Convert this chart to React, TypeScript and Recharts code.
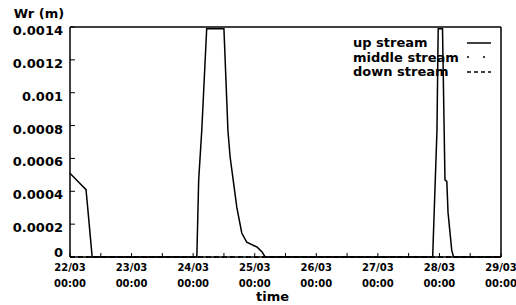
import { LineChart, Line, XAxis, YAxis, Legend } from 'recharts';

// days since 22/03 00:00
const upStreamTime = [0, 0.13, 0.26, 0.29, 0.36, 2.06, 2.09, 2.14, 2.22, 2.5, 2.565, 2.6, 2.65, 2.71, 2.79, 2.87, 3.04, 3.12, 3.17, 5.89, 5.96, 5.98, 6.05, 6.09, 6.12, 6.14, 6.2, 6.23, 7];
const upStreamWr = [0.00051, 0.00046, 0.00041, 0.00029, 0, 0, 0.00047, 0.00077, 0.00139, 0.00139, 0.00077, 0.00061, 0.00047, 0.0003, 0.000146, 0.00009, 0.00006, 0.00003, 0, 0, 0.00077, 0.00139, 0.00139, 0.00047, 0.00046, 0.00027, 0.00004, 0, 0];
const middleStreamTime = [0, 7];
const middleStreamWr = [0, 0];
const downStreamTime = [0, 7];
const downStreamWr = [0, 0];

const dayLabels = ['22/03', '23/03', '24/03', '25/03', '26/03', '27/03', '28/03', '29/03'];
const xTicks = [0, 0.5, 1, 1.5, 2, 2.5, 3, 3.5, 4, 4.5, 5, 5.5, 6, 6.5, 7];
const yTicks = [0, 0.0002, 0.0004, 0.0006, 0.0008, 0.001, 0.0012, 0.0014];

const seriesNames = ['up stream', 'middle stream', 'down stream'];
const dashes = [undefined, '2 14', '4 3'];

const font = "'DejaVu Sans', sans-serif";

const toPoints = (t: number[], v: number[]) => t.map((x, i) => ({ t: x, v: v[i] }));
const upData = toPoints(upStreamTime, upStreamWr);
const middleData = toPoints(middleStreamTime, middleStreamWr);
const downData = toPoints(downStreamTime, downStreamWr);

function DayTick({ x, y, payload }: any) {
  const v = payload.value;
  if (!Number.isInteger(v)) return null;
  return (
    <text x={x} y={y} textAnchor="middle" fontSize={10} fontWeight="bold" fill="#000" fontFamily={font}>
      <tspan x={x} dy="0.71em">{dayLabels[v]}</tspan>
      <tspan x={x} dy="1.6em">00:00</tspan>
    </text>
  );
}

// labels sit a little below their tick, except 0 which sits above
function WrTick({ x, y, payload }: any) {
  const v = payload.value;
  return (
    <text x={x} y={y} dy={v === 0 ? '0.0em' : '0.62em'} textAnchor="end" fontSize={13} fontWeight="bold" fill="#000" fontFamily={font}>
      {String(v)}
    </text>
  );
}

const renderLegend = () => (
  <div style={{ fontFamily: font, fontWeight: 'bold', fontSize: 13, color: '#000' }}>
    {seriesNames.map((name, i) => (
      <div key={name} style={{ display: 'flex', alignItems: 'center', height: 14.5 }}>
        <span style={{ width: 114, whiteSpace: 'nowrap' }}>{name}</span>
        <svg width={24} height={6}>
          <line x1={0} y1={3} x2={24} y2={3} stroke="#000" strokeWidth={1.5} strokeDasharray={dashes[i]} />
        </svg>
      </div>
    ))}
  </div>
);

export default function App() {
  return (
    <div style={{ position: 'absolute', left: 0, top: 0, background: '#fff' }}>
      <LineChart
        width={516}
        height={305}
        margin={{ top: 26, right: 14, bottom: 0, left: 0 }}
        style={{ fontFamily: font, fontWeight: 'bold' }}
      >
        <XAxis
          xAxisId="bottom"
          dataKey="t"
          type="number"
          domain={[0, 7]}
          ticks={xTicks}
          interval={0}
          height={48}
          tickSize={-4}
          tickMargin={11}
          tick={<DayTick />}
          axisLine={{ stroke: '#000', strokeWidth: 1.5 }}
          tickLine={{ stroke: '#000' }}
          label={{ value: 'time', position: 'insideBottom', offset: 4, dx: -13, fill: '#000', fontSize: 13 }}
        />
        <XAxis
          xAxisId="top"
          orientation="top"
          type="number"
          domain={[0, 7]}
          ticks={xTicks}
          interval={0}
          height={1}
          tickSize={-4}
          tick={false}
          axisLine={{ stroke: '#000', strokeWidth: 1.5 }}
          tickLine={{ stroke: '#000' }}
        />
        <YAxis
          yAxisId="left"
          type="number"
          domain={[0, 0.0014]}
          ticks={yTicks}
          interval={0}
          width={70}
          tickSize={-5}
          tickMargin={12}
          tick={<WrTick />}
          axisLine={{ stroke: '#000', strokeWidth: 1.5 }}
          tickLine={{ stroke: '#000' }}
          label={{ value: 'Wr (m)', position: 'top', offset: 9, dx: 4, fill: '#000', fontSize: 13 }}
        />
        <YAxis
          yAxisId="right"
          orientation="right"
          type="number"
          domain={[0, 0.0014]}
          ticks={yTicks}
          interval={0}
          width={1}
          tickSize={-5}
          tick={false}
          axisLine={{ stroke: '#000', strokeWidth: 1.5 }}
          tickLine={{ stroke: '#000' }}
        />
        <Legend
          layout="vertical"
          align="center"
          verticalAlign="middle"
          content={renderLegend}
          wrapperStyle={{ left: 353, top: 35.5, width: 140, height: 44 }}
        />
        <Line xAxisId="bottom" yAxisId="left" data={downData} dataKey="v" name={seriesNames[2]} stroke="#000" strokeWidth={1.5} strokeDasharray="5 3" dot={false} isAnimationActive={false} />
        <Line xAxisId="bottom" yAxisId="left" data={middleData} dataKey="v" name={seriesNames[1]} stroke="#000" strokeWidth={1.5} strokeDasharray="2 6" dot={false} isAnimationActive={false} />
        <Line xAxisId="bottom" yAxisId="left" data={upData} dataKey="v" name={seriesNames[0]} stroke="#000" strokeWidth={1.5} dot={false} isAnimationActive={false} />
      </LineChart>
    </div>
  );
}
